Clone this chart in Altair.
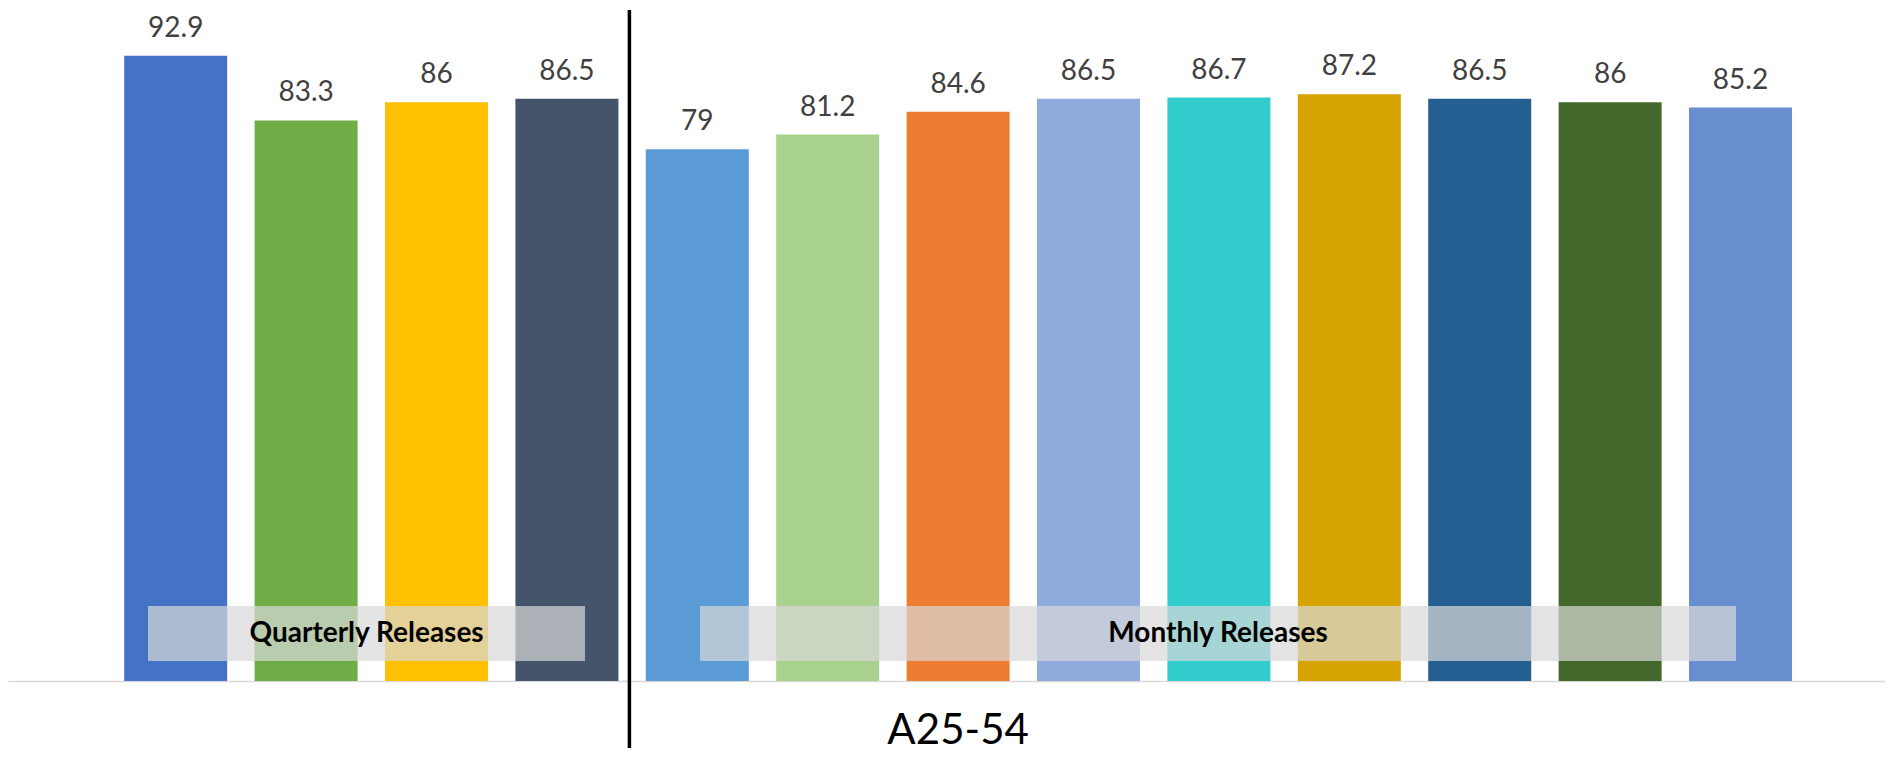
import altair as alt
import pandas as pd

# ---- data ----
series = ["Q1", "Q2", "Q3", "Q4", "M1", "M2", "M3", "M4", "M5", "M6", "M7", "M8", "M9"]
values = [92.9, 83.3, 86, 86.5, 79, 81.2, 84.6, 86.5, 86.7, 87.2, 86.5, 86, 85.2]
colors = ["#4472C4", "#70AD47", "#FFC000", "#44546A", "#5B9BD5", "#A9D18E",
          "#ED7D31", "#8FAADC", "#33CCCC", "#D6A300", "#255E91", "#43682B", "#698ED0"]
group_names = ["Quarterly Releases", "Monthly Releases"]
group_start = ["Q1", "M1"]
group_end = ["Q4", "M9"]
group_center = ["Q2", "M5"]
category_label = "A25-54"

# ---- annotation placement (in data units of the value axis) ----
box_top, box_bottom, box_text_y = 11.14, 2.97, 6.98
divider_top, divider_bottom = 99.7, -9.96
category_y = -9.4

df = pd.DataFrame({"series": series, "value": values})

xscale = alt.Scale(domain=series, paddingInner=0.2101, paddingOuter=0.802, align=0.5555)
xaxis = alt.Axis(labels=False, ticks=False, title=None, grid=False,
                 domainColor="#D9D9D9", domainWidth=1.5)
yscale = alt.Scale(domain=[0, 100], nice=False, zero=True)


def X(field, bp=None):
    if bp is None:
        return alt.X(field, type="nominal", sort=series, scale=xscale, axis=xaxis)
    return alt.X(field, type="nominal", sort=series, scale=xscale, axis=xaxis, bandPosition=bp)


bars = alt.Chart(df).mark_bar().encode(
    x=X("series"),
    y=alt.Y("value:Q", scale=yscale, axis=None),
    color=alt.Color("series:N", scale=alt.Scale(domain=series, range=colors), legend=None),
)

labels = alt.Chart(df).mark_text(
    font="Lato", fontSize=28, color="#404040", baseline="alphabetic", dy=-19
).encode(
    x=X("series", 0.5),
    y=alt.Y("value:Q", scale=yscale, axis=None),
    text=alt.Text("value:Q"),
)

layers = [bars, labels]

box_bp = [(0.231, 0.676), (0.526, 0.456)]
text_bp = [1.0, 0.491]
text_dx = [9, 0]
for i in range(len(group_names)):
    gdf = pd.DataFrame({"start": [group_start[i]], "end": [group_end[i]],
                        "center": [group_center[i]], "name": [group_names[i]]})
    box = alt.Chart(gdf).mark_rect(fill="#D8D8D8", opacity=0.7).encode(
        x=X("start", box_bp[i][0]),
        x2=alt.X2("end", bandPosition=box_bp[i][1]),
        y=alt.Y(datum=box_top, scale=yscale, axis=None),
        y2=alt.datum(box_bottom),
    )
    txt = alt.Chart(gdf).mark_text(
        font="Lato", fontWeight="bold", fontSize=28, color="#000000", baseline="middle",
        dx=text_dx[i]
    ).encode(
        x=X("center", text_bp[i]),
        y=alt.Y(datum=box_text_y, scale=yscale, axis=None),
        text="name:N",
    )
    layers += [box, txt]

divider = alt.Chart(pd.DataFrame({"pos": ["Q4"]})).mark_rule(
    color="#000000", strokeWidth=3.5, xOffset=11
).encode(
    x=X("pos", 1.0),
    y=alt.Y(datum=divider_top, scale=yscale, axis=None),
    y2=alt.datum(divider_bottom),
)

cat = alt.Chart(pd.DataFrame({"pos": ["M3"], "label": [category_label]})).mark_text(
    font="Lato", fontSize=42, color="#000000", baseline="alphabetic"
).encode(
    x=X("pos", 0.5),
    y=alt.Y(datum=category_y, scale=yscale, axis=None),
    text="label:N",
)

layers += [divider, cat]

chart = alt.layer(*layers).properties(
    width=1877,
    height=673,
    autosize=alt.AutoSizeParams(type="none"),
    padding={"left": 0, "top": 0, "right": 0, "bottom": 71},
    background="white",
).configure_view(stroke=None)

chart.save("out.html", embed_options={"renderer": "svg", "actions": False})
